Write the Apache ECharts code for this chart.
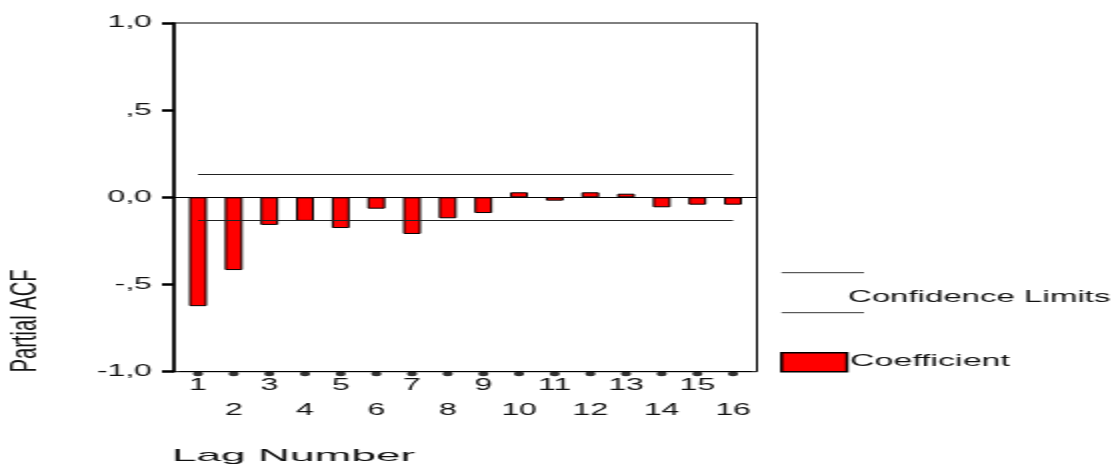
<!DOCTYPE html>
<html><head><meta charset="utf-8">
<script src="https://cdn.jsdelivr.net/npm/echarts@6/dist/echarts.min.js"></script>
<style>
html,body{margin:0;padding:0;background:#fff;overflow:hidden;}
#chart{width:559px;height:465px;transform:scaleX(2);transform-origin:0 0;}
</style></head><body><div id="chart"></div>
<script>
// ---- data ----
const lags = ['1','2','3','4','5','6','7','8','9','10','11','12','13','14','15','16'];
const partialAcf = [-0.624, -0.417, -0.158, -0.135, -0.176, -0.065, -0.21, -0.12, -0.09, 0.029, -0.019, 0.029, 0.021, -0.057, -0.042, -0.042];
const upperLimit = 0.134;
const lowerLimit = -0.134;
const yTickValues = [-1, -0.5, 0, 0.5, 1];
const yTickLabels = ['-1,0', '-,5', '0,0', ',5', '1,0'];
const axisMin = -1;
const legendLimits = 'Confidence Limits';
const legendCoef = 'Coefficient';
const xTitle = 'Lag Number';
const yTitle = 'Partial ACF';

const FONT = '"Liberation Sans", Arial, sans-serif';
const chart = echarts.init(document.getElementById('chart'), null, {renderer: 'canvas'});
const gridTop = 23, gridHeight = 348.7;

chart.setOption({
  animation: false,
  backgroundColor: '#fff',
  grid: [
    {left: 87, top: gridTop, width: 291.5, height: gridHeight, show: true, borderColor: '#000', borderWidth: 1, backgroundColor: 'transparent'},
    {left: 90.1, top: gridTop, width: 285.35, height: gridHeight}
  ],
  xAxis: [
    {gridIndex: 0, type: 'value', min: 0, max: 1,
     axisLine: {show: true, onZero: true, lineStyle: {color: '#000', width: 1}},
     axisTick: {show: false}, axisLabel: {show: false}, splitLine: {show: false}},
    {gridIndex: 1, type: 'category', data: lags, boundaryGap: true,
     axisLine: {show: true, onZero: false, lineStyle: {color: '#000', width: 1}},
     axisTick: {show: false},
     axisLabel: {interval: 0, margin: 1, fontSize: 16, fontFamily: FONT, color: '#111', lineHeight: 25,
       formatter: (v, i) => (i % 2 === 0 ? v : '\n' + v)},
     splitLine: {show: false}}
  ],
  yAxis: [
    {gridIndex: 0, type: 'value', min: -1, max: 1, interval: 0.5,
     axisLine: {show: true, lineStyle: {color: '#000', width: 1.6}},
     axisTick: {show: true, length: 6, lineStyle: {color: '#000', width: 2.5}},
     axisLabel: {margin: 11, fontSize: 16, fontFamily: FONT, color: '#111',
       formatter: v => yTickLabels[yTickValues.indexOf(v)]},
     splitLine: {show: false}},
    {gridIndex: 1, type: 'value', min: -1, max: 1, show: false}
  ],
  series: [
    {type: 'bar', name: legendCoef, xAxisIndex: 1, yAxisIndex: 1, data: partialAcf, barWidth: '50%',
     itemStyle: {color: '#ff0000', borderColor: '#000', borderWidth: 1},
     markLine: {silent: true, symbol: 'none', label: {show: false},
       lineStyle: {color: '#222', width: 1, type: 'solid'},
       data: [
         [{coord: [lags[0], upperLimit]}, {coord: [lags[lags.length - 1], upperLimit]}],
         [{coord: [lags[0], lowerLimit]}, {coord: [lags[lags.length - 1], lowerLimit]}]
       ]}},
    // axis tick dots under the category axis
    {type: 'scatter', xAxisIndex: 1, yAxisIndex: 1, silent: true, clip: false, z: 5,
     data: lags.map(l => [l, axisMin]), symbol: 'circle', symbolSize: 5, symbolOffset: [0, 2],
     itemStyle: {color: '#000'}}
  ],
  graphic: [
    {type: 'line', shape: {x1: 390.8, y1: 272.7, x2: 432, y2: 272.7}, style: {stroke: '#333', lineWidth: 1}},
    {type: 'line', shape: {x1: 390.8, y1: 312.7, x2: 432, y2: 312.7}, style: {stroke: '#333', lineWidth: 1}},
    {type: 'text', x: 424, y: 297.5, style: {text: legendLimits, font: '16.5px ' + FONT, fill: '#111', align: 'left', verticalAlign: 'middle', textAlign: 'left', textVerticalAlign: 'middle'}},
    {type: 'rect', shape: {x: 390.8, y: 352.7, width: 32.7, height: 19}, style: {fill: '#ff0000', stroke: '#000', lineWidth: 1.5}},
    {type: 'text', x: 425, y: 361.5, style: {text: legendCoef, font: '17px ' + FONT, fill: '#111', align: 'left', verticalAlign: 'middle', textAlign: 'left', textVerticalAlign: 'middle'}},
    {type: 'text', x: 86, y: 456, scaleX: 1.3, style: {text: xTitle, font: '17px ' + FONT, fill: '#111', align: 'left', verticalAlign: 'middle', textAlign: 'left', textVerticalAlign: 'middle'}},
    {type: 'text', x: 13.5, y: 321, rotation: Math.PI / 2, scaleX: 1.12, style: {text: yTitle, font: '18px ' + FONT, fill: '#111', align: 'center', verticalAlign: 'middle', textAlign: 'center', textVerticalAlign: 'middle'}}
  ]
});
</script></body></html>
